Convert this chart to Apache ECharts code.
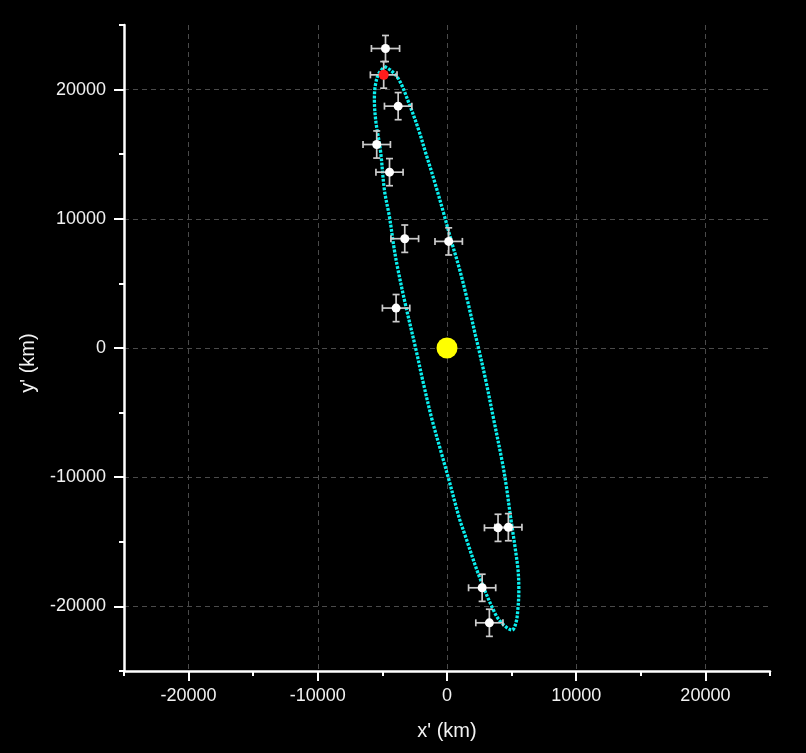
<!DOCTYPE html>
<html><head><meta charset="utf-8">
<script src="https://cdn.jsdelivr.net/npm/echarts@6/dist/echarts.min.js"></script>
<style>html,body{margin:0;padding:0;background:#000;}#c{width:806px;height:753px;}</style>
</head><body><div id="c"></div>
<script>
// ---- data ----
const majorTicks = [-20000, -10000, 0, 10000, 20000];

// fitted orbit
const orbitX = [-4840, -4300, -3680, -2890, -2200, -1650, -970, -250, 320, 960, 1580, 2200, 2450, 3000, 3600, 4300, 4600, 4920, 5300, 5500, 5560, 5480, 5330, 5030,
  4350, 3750, 2510, 1350, 1000, 570, 190, -460, -1180, -1880, -2390, -3290, -3810, -4070, -4450, -4840, -5150, -5500, -5620, -5550, -5300, -4840];
const orbitY = [21780, 21450, 20700, 18800, 16900, 15100, 12900, 10400, 8330, 6140, 3690, 1000, -50, -2500, -5460, -8940, -10750, -13070, -15650, -17190, -18740, -20290, -21290, -21830,
  -21400, -20600, -17710, -14350, -13330, -11780, -10360, -8040, -5460, -2500, -180, 3690, 6140, 7560, 10130, 12200, 15290, 17480, 19200, 20300, 21200, 21780];

// observations with error bars
const obsX    = [-4760, -3780, -5440, -4450, -3270, 130, -3940, 3950, 4750, 2720, 3280];
const obsY    = [23180, 18720, 15750, 13610, 8460, 8250, 3090, -13920, -13870, -18560, -21270];
const obsXErr = [1090, 1060, 1060, 1050, 1070, 1060, 1060, 1050, 1050, 1050, 1050];
const obsYErr = [1010, 1050, 1050, 1050, 1060, 1050, 1050, 1050, 1050, 1050, 1050];

// reference epoch (red)
const refX = [-4900], refY = [21140], refXErr = [1030], refYErr = [1030];

// primary
const sunX = [0], sunY = [0];

// ---- build ----
const orbitData = orbitX.map((x, i) => [x, orbitY[i]]);
const obsData = obsX.map((x, i) => [x, obsY[i], obsXErr[i], obsYErr[i]]);
const refData = refX.map((x, i) => [x, refY[i], refXErr[i], refYErr[i]]);
const sunData = sunX.map((x, i) => [x, sunY[i]]);

function errRender(params, api) {
  const x = api.value(0), y = api.value(1), ex = api.value(2), ey = api.value(3);
  const l = api.coord([x - ex, y]), r = api.coord([x + ex, y]);
  const t = api.coord([x, y + ey]), b = api.coord([x, y - ey]);
  const c = 3.5;
  const st = { stroke: '#cccccc', lineWidth: 1.7 };
  const ln = (x1, y1, x2, y2) => ({ type: 'line', shape: { x1, y1, x2, y2 }, style: st });
  return {
    type: 'group', children: [
      ln(l[0], l[1], r[0], r[1]),
      ln(t[0], t[1], b[0], b[1]),
      ln(l[0], l[1] - c, l[0], l[1] + c),
      ln(r[0], r[1] - c, r[0], r[1] + c),
      ln(t[0] - c, t[1], t[0] + c, t[1]),
      ln(b[0] - c, b[1], b[0] + c, b[1])
    ]
  };
}

const FONT = '"Liberation Sans", Arial, sans-serif';
const labelColor = '#f2f2f2';

function majorAxis(isX) {
  return {
    type: 'value', min: -25000, max: 25000, interval: 5000,
    position: isX ? 'bottom' : 'left',
    name: isX ? "x' (km)" : "y' (km)",
    nameLocation: 'middle',
    nameGap: isX ? 50 : 86,
    nameTextStyle: isX ? { color: labelColor, fontSize: 20, fontFamily: FONT }
                       : { color: labelColor, fontSize: 20, fontFamily: FONT, padding: [0, 30, 0, 0] },
    axisLine: { show: true, onZero: false, lineStyle: { color: '#ffffff', width: 2.5 } },
    axisTick: { show: true, customValues: majorTicks, length: 10, lineStyle: { color: '#ffffff', width: 2 } },
    axisLabel: { show: true, customValues: majorTicks, margin: isX ? 16 : 18, color: labelColor, fontSize: 18, fontFamily: FONT,
      formatter: v => String(v) },
    splitLine: { show: true, lineStyle: { color: '#4a4a4a', width: 1, type: [5, 4] } },
    minorTick: { show: false }
  };
}
function minorAxis(isX) {
  return {
    type: 'value', min: -25000, max: 25000, interval: 5000,
    position: isX ? 'bottom' : 'left',
    axisLine: { show: false, onZero: false },
    axisTick: { show: true, length: 5, lineStyle: { color: '#ffffff', width: 2 } },
    axisLabel: { show: false },
    splitLine: { show: false }
  };
}

const chart = echarts.init(document.getElementById('c'), null, { renderer: 'canvas' });
chart.setOption({
  backgroundColor: '#000000',
  animation: false,
  grid: { left: 124, top: 25, width: 646, height: 646, containLabel: false, outerBoundsMode: 'none' },
  xAxis: [majorAxis(true), minorAxis(true)],
  yAxis: [majorAxis(false), minorAxis(false)],
  series: [
    {
      type: 'line', data: orbitData, smooth: 0.35, symbol: 'none', z: 2,
      lineStyle: { color: '#0af0f0', width: 3.3, type: [2.8, 1.4], cap: 'butt', opacity: 1 }
    },
    {
      type: 'custom', data: obsData, renderItem: errRender, z: 3,
      encode: { x: 0, y: 1 }
    },
    {
      type: 'scatter', data: obsData.map(d => [d[0], d[1]]), symbol: 'circle', symbolSize: 9, z: 4,
      itemStyle: { color: '#ffffff', opacity: 1 }
    },
    {
      type: 'custom', data: refData, renderItem: errRender, z: 3,
      encode: { x: 0, y: 1 }
    },
    {
      type: 'scatter', data: refData.map(d => [d[0], d[1]]), symbol: 'circle', symbolSize: 10, z: 5,
      itemStyle: { color: '#ff1c1c', opacity: 1 }
    },
    {
      type: 'scatter', data: sunData, symbol: 'circle', symbolSize: 21, z: 5,
      itemStyle: { color: '#ffff00', opacity: 1 }
    }
  ]
});
</script>
</body></html>
